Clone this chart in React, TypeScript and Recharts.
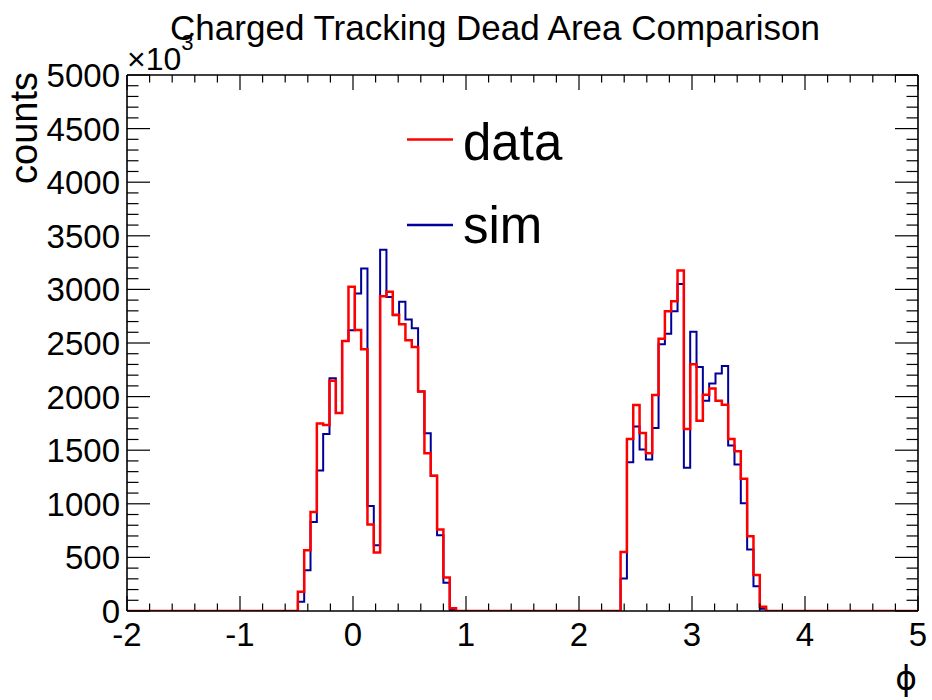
import React from 'react';
import { ComposedChart, Line, XAxis, YAxis, Legend } from 'recharts';

// Histogram binning: 125 bins over [-2, 5]
const BIN_START = -2;
const BIN_WIDTH = 0.056;
const N_BINS = 125;

// Left peak (first non-empty bin index and counts per bin)
const LEFT_START_BIN = 27;
const dataLeft = [179, 567, 923, 1750, 1735, 2147, 1846, 2519, 3024, 2621, 2441, 808, 545, 2937, 2977, 2764, 2674, 2525, 2463, 2048, 1472, 1261, 760, 313, 25];
const simLeft = [86, 381, 830, 1310, 1651, 2172, 1846, 2519, 2618, 2962, 3194, 979, 613, 3371, 2928, 2760, 2884, 2720, 2637, 2048, 1658, 1261, 706, 263, 10];

// Right peak
const RIGHT_START_BIN = 78;
const dataRight = [551, 1605, 1921, 1661, 1471, 2014, 2540, 2797, 2890, 3176, 1698, 2302, 1775, 2017, 2075, 1961, 1924, 1605, 1490, 1233, 697, 335, 40];
const simRight = [304, 1388, 1722, 1506, 1413, 1707, 2488, 2587, 2797, 3051, 1336, 2605, 2277, 1961, 2122, 2215, 2286, 1543, 1366, 1006, 573, 232, 20];

const xTicks = [-2, -1.8, -1.6, -1.4, -1.2, -1, -0.8, -0.6, -0.4, -0.2, 0, 0.2, 0.4, 0.6, 0.8, 1, 1.2, 1.4, 1.6, 1.8, 2, 2.2, 2.4, 2.6, 2.8, 3, 3.2, 3.4, 3.6, 3.8, 4, 4.2, 4.4, 4.6, 4.8, 5];
const xMajor = [-2, -1, 0, 1, 2, 3, 4, 5];
const yTicks: number[] = [];
for (let v = 0; v <= 5000; v += 100) yTicks.push(v);
const yMajor = [0, 500, 1000, 1500, 2000, 2500, 3000, 3500, 4000, 4500, 5000];
const legendOrder = ['data', 'sim'];

const TITLE = 'Charged Tracking Dead Area Comparison';

const rows: { x: number; data: number; sim: number }[] = [];
for (let i = 0; i <= N_BINS; i++) {
  const x = Number((BIN_START + i * BIN_WIDTH).toFixed(4));
  let d = 0;
  let s = 0;
  if (i >= LEFT_START_BIN && i < LEFT_START_BIN + dataLeft.length) {
    d = dataLeft[i - LEFT_START_BIN];
    s = simLeft[i - LEFT_START_BIN];
  }
  if (i >= RIGHT_START_BIN && i < RIGHT_START_BIN + dataRight.length) {
    d = dataRight[i - RIGHT_START_BIN];
    s = simRight[i - RIGHT_START_BIN];
  }
  rows.push({ x, data: d, sim: s });
}

const PL = 127;
const PR = 918;
const PT = 75;
const PB = 611;
const FONT = '"Liberation Sans", Arial, Helvetica, sans-serif';
const TICK_FONT = 33;

const isMajorX = (v: number) => xMajor.some((m) => Math.abs(m - v) < 1e-6);
const isMajorY = (v: number) => yMajor.includes(v);

const XTickBottom = (props: any) => {
  const { x, payload } = props;
  const v = payload.value;
  const major = isMajorX(v);
  return (
    <g>
      <line x1={x} x2={x} y1={PB} y2={PB - (major ? 15 : 7.5)} stroke="#000" strokeWidth={1.2} />
      {major && (
        <text x={x} y={646} textAnchor="middle" fontSize={TICK_FONT} fontFamily={FONT} fill="#000">
          {String(Math.round(v))}
        </text>
      )}
    </g>
  );
};

const XTickTop = (props: any) => {
  const { x, payload } = props;
  const major = isMajorX(payload.value);
  return <line x1={x} x2={x} y1={PT} y2={PT + (major ? 15 : 7.5)} stroke="#000" strokeWidth={1.2} />;
};

const YTickLeft = (props: any) => {
  const { y, payload } = props;
  const v = payload.value;
  const major = isMajorY(v);
  return (
    <g>
      <line x1={PL} x2={PL + (major ? 23 : 11.5)} y1={y} y2={y} stroke="#000" strokeWidth={1.2} />
      {major && (
        <text x={120} y={y + 12} textAnchor="end" fontSize={TICK_FONT} fontFamily={FONT} fill="#000">
          {String(v)}
        </text>
      )}
    </g>
  );
};

const YTickRight = (props: any) => {
  const { y, payload } = props;
  const major = isMajorY(payload.value);
  return <line x1={PR} x2={PR - (major ? 23 : 11.5)} y1={y} y2={y} stroke="#000" strokeWidth={1.2} />;
};

const LegendBox = (props: any) => {
  const items = [...(props.payload || [])].sort(
    (a: any, b: any) => legendOrder.indexOf(a.value) - legendOrder.indexOf(b.value)
  );
  return (
    <svg width={220} height={160} style={{ display: 'block' }}>
      {items.map((it: any, i: number) => (
        <g key={it.value}>
          <line x1={7} x2={53} y1={39.5 + i * 85.5} y2={39.5 + i * 85.5} stroke={it.color} strokeWidth={2.5} />
          <text x={63} y={60 + i * 83} fontSize={51} fontFamily={FONT} fill="#000">
            {it.value}
          </text>
        </g>
      ))}
    </svg>
  );
};

export default function App() {
  return (
    <div style={{ position: 'absolute', left: 0, top: 0, width: 932, height: 700, background: '#fff' }}>
      <ComposedChart
        width={932}
        height={700}
        data={rows}
        margin={{ top: PT - 1, right: 932 - PR - 1, bottom: 700 - PB - 1, left: PL - 1 }}
      >
        <XAxis
          dataKey="x"
          type="number"
          domain={[-2, 5]}
          ticks={xTicks}
          interval={0}
          height={1}
          tickSize={0}
          tickMargin={0}
          tickLine={false}
          axisLine={{ stroke: '#000', strokeWidth: 1.6 }}
          tick={(p: any) => <XTickBottom {...p} />}
          allowDataOverflow
        />
        <XAxis
          xAxisId="top"
          orientation="top"
          dataKey="x"
          type="number"
          domain={[-2, 5]}
          ticks={xTicks}
          interval={0}
          height={1}
          tickSize={0}
          tickMargin={0}
          tickLine={false}
          axisLine={{ stroke: '#000', strokeWidth: 1.6 }}
          tick={(p: any) => <XTickTop {...p} />}
          allowDataOverflow
        />
        <YAxis
          type="number"
          domain={[0, 5000]}
          ticks={yTicks}
          interval={0}
          width={1}
          tickSize={0}
          tickMargin={0}
          tickLine={false}
          axisLine={{ stroke: '#000', strokeWidth: 1.6 }}
          tick={(p: any) => <YTickLeft {...p} />}
          allowDataOverflow
        />
        <YAxis
          yAxisId="right"
          orientation="right"
          type="number"
          domain={[0, 5000]}
          ticks={yTicks}
          interval={0}
          width={1}
          tickSize={0}
          tickMargin={0}
          tickLine={false}
          axisLine={{ stroke: '#000', strokeWidth: 1.6 }}
          tick={(p: any) => <YTickRight {...p} />}
          allowDataOverflow
        />
        <Line
          type="stepAfter"
          dataKey="sim"
          name="sim"
          stroke="#000099"
          strokeWidth={2}
          dot={false}
          activeDot={false}
          isAnimationActive={false}
        />
        <Line
          type="stepAfter"
          dataKey="data"
          name="data"
          stroke="#ff0000"
          strokeWidth={2.5}
          dot={false}
          activeDot={false}
          isAnimationActive={false}
        />
        <Legend
          layout="vertical"
          align="center"
          verticalAlign="middle"
          wrapperStyle={{ position: 'absolute', left: 400, top: 100, width: 220, height: 160, margin: 0, padding: 0 }}
          content={(p: any) => <LegendBox {...p} />}
        />
      </ComposedChart>
      <svg
        width={932}
        height={700}
        style={{ position: 'absolute', left: 0, top: 0, pointerEvents: 'none' }}
      >
        <text x={495} y={39.5} textAnchor="middle" fontSize={35} fontFamily={FONT} fill="#000">
          {TITLE}
        </text>
        <text
          transform="translate(37,72) rotate(-90)"
          textAnchor="end"
          fontSize={38}
          fontFamily={FONT}
          fill="#000"
        >
          counts
        </text>
        <text x={127} y={70} fontSize={32} fontFamily={FONT} fill="#000">
          ×10
          <tspan dy={-20} fontSize={22}>
            3
          </tspan>
        </text>
        <text x={917} y={690} textAnchor="end" fontSize={33} fontFamily='"DejaVu Sans", sans-serif' fill="#000">
          ϕ
        </text>
      </svg>
    </div>
  );
}
